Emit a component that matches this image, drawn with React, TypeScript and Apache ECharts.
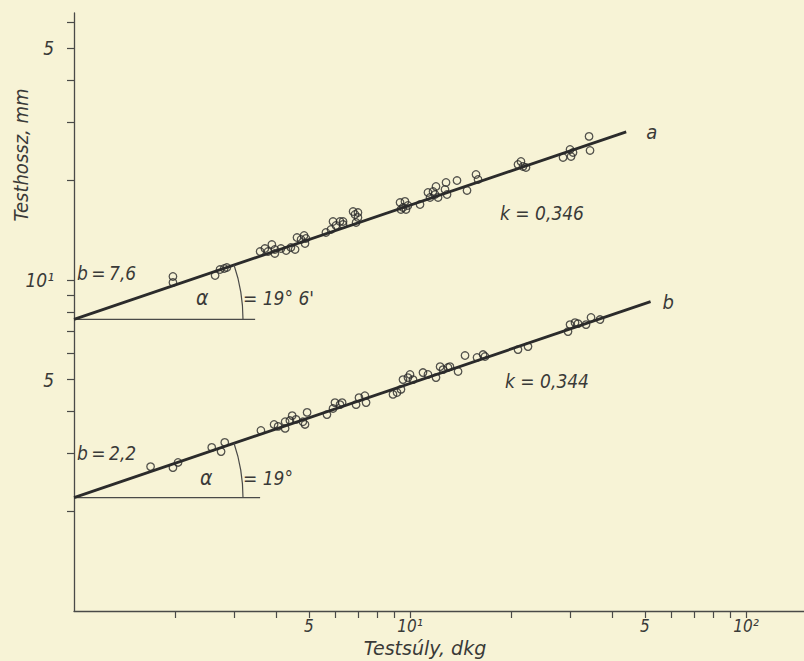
import { useEffect, useRef } from "react";
import * as echarts from "echarts";

const PAPER = "#f7f3d6";
const INK = "#2b2b2b";
const AXIS_INK = "#4a4a48";
const TEXT_INK = "#3a3a38";
const FONT = '"DejaVu Sans Condensed", "Liberation Sans Narrow", "DejaVu Sans", sans-serif';
const FONT_WIDE = '"DejaVu Sans", "Liberation Sans", sans-serif';

// axis ticks and labels (log scales)
const xTickValues = [2, 3, 4, 5, 6, 7, 8, 9, 10, 20, 30, 40, 50, 60, 70, 80, 90, 100];
const xLabelValues = [5, 10, 50, 100];
const yTickValues = [2, 3, 4, 5, 6, 7, 8, 9, 10, 20, 30, 40, 50, 60];
const yLabelValues = [5, 10, 50];

// series a: Testsúly (dkg), Testhossz (mm)
const seriesA: [number, number][] = [
  [1.97, 10.24], [1.97, 9.82], [2.63, 10.31], [2.72, 10.75], [2.8, 10.83], [2.85, 10.9],
  [3.58, 12.18], [3.7, 12.44], [3.78, 12.18], [3.88, 12.79], [3.96, 12.36], [3.96, 12.02],
  [4.13, 12.44], [4.28, 12.27], [4.42, 12.53], [4.55, 12.36], [4.61, 13.43], [4.74, 13.24],
  [4.84, 13.62], [4.87, 12.88], [4.9, 13.34], [5.62, 13.91], [5.82, 14.2], [5.9, 15.01],
  [6.02, 14.6], [6.19, 15.01], [6.32, 15.01], [6.32, 14.71], [6.77, 16.09], [6.86, 15.76],
  [7.0, 15.44], [6.91, 14.91], [7.0, 15.98], [9.34, 17.13], [9.53, 16.55], [9.66, 17.26],
  [9.73, 16.32], [9.86, 16.78], [9.4, 16.32], [10.71, 16.89], [11.31, 18.37], [11.47, 17.74],
  [11.71, 18.5], [11.87, 18.11], [11.95, 19.15], [12.12, 17.74], [12.71, 18.76], [12.8, 19.69],
  [12.89, 18.11], [13.8, 19.96], [14.78, 18.63], [15.72, 20.82], [15.94, 20.11], [20.96, 22.32],
  [21.39, 22.79], [21.69, 22.01], [22.14, 21.86], [28.54, 23.43], [29.94, 24.77], [30.15, 23.6],
  [30.56, 24.26], [34.11, 27.13], [34.34, 24.6],
];

// series b
const seriesB: [number, number][] = [
  [1.69, 2.73], [1.97, 2.71], [2.04, 2.81], [2.57, 3.12], [2.74, 3.03], [2.81, 3.23],
  [3.6, 3.51], [3.94, 3.66], [4.05, 3.61], [4.25, 3.73], [4.25, 3.56], [4.39, 3.76],
  [4.46, 3.89], [4.58, 3.79], [4.8, 3.73], [4.87, 3.66], [4.94, 3.98], [5.66, 3.92],
  [5.9, 4.09], [5.98, 4.26], [6.19, 4.2], [6.28, 4.26], [6.91, 4.2], [7.05, 4.41],
  [7.34, 4.47], [7.4, 4.26], [8.9, 4.51], [9.15, 4.57], [9.4, 4.67], [9.53, 5.0],
  [9.86, 5.07], [10.0, 5.18], [10.21, 5.0], [10.93, 5.25], [11.31, 5.18], [11.95, 5.07],
  [12.29, 5.47], [12.54, 5.36], [12.97, 5.44], [13.15, 5.47], [13.9, 5.29], [14.58, 5.91],
  [15.83, 5.83], [16.5, 5.95], [16.72, 5.87], [20.96, 6.16], [22.45, 6.29], [29.53, 6.98],
  [29.94, 7.33], [30.98, 7.43], [31.62, 7.38], [33.41, 7.33], [34.57, 7.7], [36.77, 7.59],
];

// fitted lines (b·x^k) end points and the horizontal reference lines for the angle α
const fitA: [number, number][] = [[1, 7.6], [44, 28]];
const fitB: [number, number][] = [[1, 2.2], [52, 8.6]];
const baseA: [number, number][] = [[1, 7.6], [3.46, 7.6]];
const baseB: [number, number][] = [[1, 2.2], [3.58, 2.2]];

const fmtX = (v: number) => {
  const r = Math.round(v);
  if (r === 10) return "10¹";
  if (r === 100) return "10²";
  return String(r >= 10 ? r / 10 : r);
};
const fmtY = (v: number) => {
  const r = Math.round(v);
  if (r === 10) return "10¹";
  return String(r >= 10 ? r / 10 : r);
};

const txt = (
  text: string,
  x: number,
  y: number,
  size = 19,
  align = "left",
  rotation = 0,
  family = FONT
) => ({
  type: "text",
  x,
  y,
  rotation,
  z: 10,
  style: {
    text,
    fill: TEXT_INK,
    fontFamily: family,
    fontStyle: "italic",
    fontSize: size,
    align,
    verticalAlign: "middle",
  },
});

export default function App() {
  const ref = useRef<HTMLDivElement>(null);
  useEffect(() => {
    if (!ref.current) return;
    const chart = echarts.init(ref.current, undefined, { renderer: "svg" });
    const axisCommon = {
      type: "log" as const,
      logBase: 10,
      axisLine: { show: true, lineStyle: { color: AXIS_INK, width: 1.3 } },
      splitLine: { show: false },
      minorTick: { show: false },
    };
    const labelStyle = {
      color: TEXT_INK,
      fontFamily: FONT,
      fontStyle: "italic",
      fontSize: 19,
    };
    chart.setOption({
      animation: false,
      backgroundColor: PAPER,
      grid: { left: 74, right: 0, top: 13, bottom: 50, containLabel: false, outerBoundsMode: "none" },
      xAxis: {
        ...axisCommon,
        min: 1,
        max: 148.8,
        axisTick: { show: true, inside: false, length: 7, customValues: xTickValues, lineStyle: { color: AXIS_INK, width: 1.2 } },
        axisLabel: { ...labelStyle, fontSize: 17, margin: 6, customValues: xLabelValues, formatter: fmtX },
      },
      yAxis: {
        ...axisCommon,
        min: 1,
        max: 64,
        axisTick: { show: true, inside: false, length: 7, customValues: yTickValues, lineStyle: { color: AXIS_INK, width: 1.2 } },
        axisLabel: { ...labelStyle, margin: 20, customValues: yLabelValues, formatter: fmtY },
      },
      series: [
        {
          type: "line",
          data: fitA,
          symbol: "none",
          lineStyle: { color: INK, width: 2.8 },
          endLabel: { show: true, formatter: "a", distance: 20, ...labelStyle, fontSize: 20 },
          z: 3,
        },
        {
          type: "line",
          data: fitB,
          symbol: "none",
          lineStyle: { color: INK, width: 2.8 },
          endLabel: { show: true, formatter: "b", distance: 12, ...labelStyle, fontSize: 20 },
          z: 3,
        },
        { type: "line", data: baseA, symbol: "none", lineStyle: { color: AXIS_INK, width: 1.3 }, z: 2 },
        { type: "line", data: baseB, symbol: "none", lineStyle: { color: AXIS_INK, width: 1.3 }, z: 2 },
        {
          type: "scatter",
          data: seriesA,
          symbol: "circle",
          symbolSize: 7.5,
          itemStyle: { color: "rgba(0,0,0,0)", borderColor: INK, borderWidth: 1.3 },
          z: 4,
        },
        {
          type: "scatter",
          data: seriesB,
          symbol: "circle",
          symbolSize: 7.5,
          itemStyle: { color: "rgba(0,0,0,0)", borderColor: INK, borderWidth: 1.3 },
          z: 4,
        },
      ],
    });

    const arcFor = (fit: [number, number][]) => {
      const p0 = chart.convertToPixel({ xAxisIndex: 0, yAxisIndex: 0 }, fit[0]) as number[];
      const p1 = chart.convertToPixel({ xAxisIndex: 0, yAxisIndex: 0 }, fit[1]) as number[];
      const ang = Math.atan2(p1[1] - p0[1], p1[0] - p0[0]);
      return {
        type: "arc",
        shape: { cx: p0[0], cy: p0[1], r: 169, startAngle: ang, endAngle: 0, clockwise: true },
        style: { stroke: AXIS_INK, lineWidth: 1.2, fill: "none" },
        z: 5,
      };
    };

    chart.setOption({
      graphic: [
        arcFor(fitA),
        arcFor(fitB),
        txt("b\u2009=\u20097,6", 77, 273),
        txt("α", 196, 298, 21),
        txt("= 19° 6'", 243, 298),
        txt("k = 0,346", 500, 213),
        txt("b\u2009=\u20092,2", 77, 453),
        txt("α", 200, 478, 21),
        txt("= 19°", 243, 478),
        txt("k = 0,344", 505, 381),
        txt("Testhossz, mm", 21, 155, 20, "center", Math.PI / 2),
        txt("Testsúly, dkg", 425, 648, 19, "center", 0, FONT_WIDE),
      ],
    });

    return () => chart.dispose();
  }, []);
  return (
    <div
      ref={ref}
      style={{ position: "absolute", left: 0, top: 0, width: 804, height: 661 }}
    />
  );
}
